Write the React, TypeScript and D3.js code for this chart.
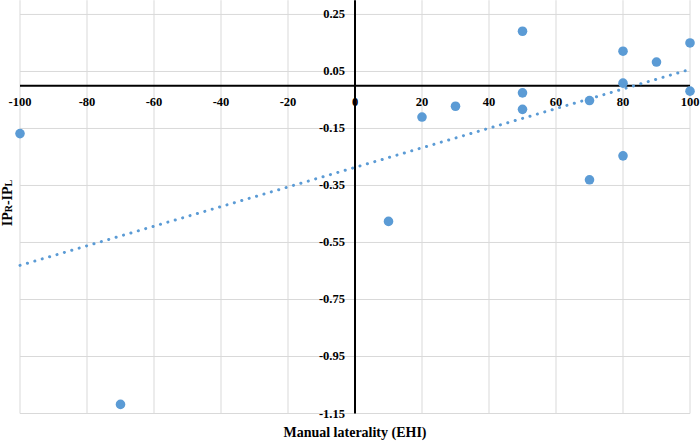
import React from "react";
import * as d3 from "d3";

const xValues: number[] = [50, 100, 80, 90, 80, 100, 50, 70, 30, 50, 20, 80, 70, -100, 10, -70];
const yValues: number[] = [0.191, 0.15, 0.121, 0.083, 0.009, -0.019, -0.025, -0.052, -0.072, -0.083, -0.11, -0.246, -0.33, -0.168, -0.476, -1.118];
const xTicks: number[] = [-100, -80, -60, -40, -20, 0, 20, 40, 60, 80, 100];
const yTicks: number[] = [0.25, 0.05, -0.15, -0.35, -0.55, -0.75, -0.95, -1.15];
const xTitle = "Manual laterality (EHI)";

const W = 700;
const H = 442;
const BLUE = "#5B9BD5";
const FONT = "'Liberation Serif', 'DejaVu Serif', serif";

export default function App() {
  const x = d3.scaleLinear().domain([-100, 100]).range([20, 690]);
  const y = d3.scaleLinear().domain([-1.15, 0.3]).range([413.5, 0.2]);

  // least-squares trendline
  const mx = d3.mean(xValues) as number;
  const my = d3.mean(yValues) as number;
  let sxy = 0;
  let sxx = 0;
  xValues.forEach((xv, i) => {
    sxy += (xv - mx) * (yValues[i] - my);
    sxx += (xv - mx) * (xv - mx);
  });
  const slope = sxy / sxx;
  const intercept = my - slope * mx;
  const trend = d3
    .line<number>()
    .x((d) => x(d))
    .y((d) => y(slope * d + intercept))([-100, 100]);

  const points = xValues.map((xv, i) => ({ x: xv, y: yValues[i] }));

  return (
    <div style={{ position: "fixed", left: 0, top: 0 }}>
      <svg width={W} height={H} style={{ display: "block", background: "#fff" }} fontFamily={FONT}>
        <rect width={W} height={H} fill="#fff" />
        {xTicks.map((t) => (
          <line key={"vx" + t} x1={x(t)} x2={x(t)} y1={y(0.3)} y2={y(-1.15)} stroke="#D9D9D9" strokeWidth={1} />
        ))}
        {yTicks.map((t) => (
          <line key={"hy" + t} x1={x(-100)} x2={x(100)} y1={y(t)} y2={y(t)} stroke="#D9D9D9" strokeWidth={1} />
        ))}
        {xTicks.map((t) => (
          <text key={"xl" + t} x={x(t)} y={y(0) + 20} textAnchor="middle" fontSize={12.5} fontWeight="bold" fill="#000">
            {t}
          </text>
        ))}
        {yTicks.map((t) => (
          <text key={"yl" + t} x={x(0) - 10} y={y(t) + 4} textAnchor="end" fontSize={12.5} fontWeight="bold" fill="#000">
            {t.toFixed(2)}
          </text>
        ))}
        <line x1={x(-100)} x2={x(100)} y1={y(0)} y2={y(0)} stroke="#000" strokeWidth={2} />
        <line x1={x(0)} x2={x(0)} y1={y(0.3)} y2={y(-1.15)} stroke="#000" strokeWidth={2} />
        <path d={trend || ""} fill="none" stroke={BLUE} strokeWidth={3} strokeDasharray="0.1 7.6" strokeLinecap="round" />
        {points.map((p, i) => (
          <circle key={"p" + i} cx={x(p.x)} cy={y(p.y)} r={4.8} fill={BLUE} />
        ))}
        <text x={x(0)} y={437} textAnchor="middle" fontSize={14} fontWeight="bold" fill="#000">
          {xTitle}
        </text>
        <text transform={`translate(12, 203) rotate(-90)`} textAnchor="middle" fontSize={14} fontWeight="bold" fill="#000">
          <tspan>IP</tspan>
          <tspan fontSize={10}>R</tspan>
          <tspan>-IP</tspan>
          <tspan fontSize={10}>L</tspan>
        </text>
      </svg>
    </div>
  );
}
